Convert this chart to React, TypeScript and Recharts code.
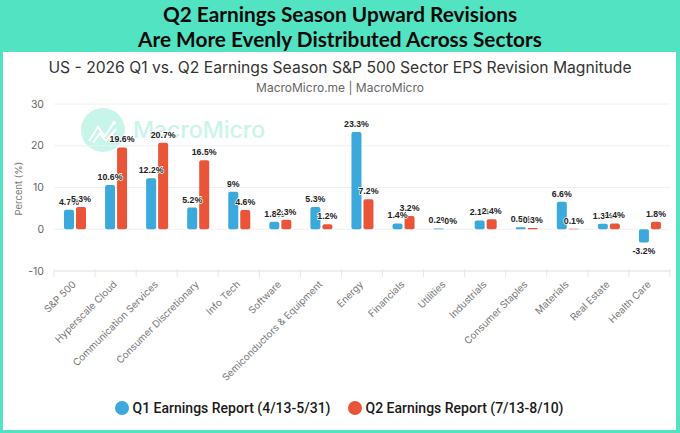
import { BarChart, Bar, XAxis, YAxis, CartesianGrid, Legend, LabelList } from "recharts";

const sectors = [
  "S&P 500",
  "Hyperscale Cloud",
  "Communication Services",
  "Consumer Discretionary",
  "Info Tech",
  "Software",
  "Semiconductors & Equipment",
  "Energy",
  "Financials",
  "Utilities",
  "Industrials",
  "Consumer Staples",
  "Materials",
  "Real Estate",
  "Health Care",
];
const q1Values = [4.7, 10.6, 12.2, 5.2, 9, 1.8, 5.3, 23.3, 1.4, 0.2, 2.1, 0.5, 6.6, 1.3, -3.2];
const q2Values = [5.3, 19.6, 20.7, 16.5, 4.6, 2.3, 1.2, 7.2, 3.2, 0, 2.4, 0.3, 0.1, 1.4, 1.8];
const yTicks = [-10, 0, 10, 20, 30];

const Q1_NAME = "Q1 Earnings Report (4/13-5/31)";
const Q2_NAME = "Q2 Earnings Report (7/13-8/10)";
const BLUE = "#3ba9dc";
const RED = "#ea553a";
const TEAL = "#52e3c2";
const WATERMARK = "#c8f5ea";

const data = sectors.map((name, i) => ({ name, q1: q1Values[i], q2: q2Values[i] }));

const AXIS_FONT = "Inter, Roboto, sans-serif";

const SectorTick = ({ x, y, payload, index }: any) => {
  const half = 41.07 / 2;
  return (
    <g>
      <line x1={x - half} x2={x - half} y1={y - 8} y2={y} stroke="#e6e6e6" />
      {index === sectors.length - 1 && (
        <line x1={x + half} x2={x + half} y1={y - 8} y2={y} stroke="#e6e6e6" />
      )}
      <text
        x={x + 2}
        y={y + 8}
        transform={`rotate(-45 ${x + 2} ${y + 8})`}
        textAnchor="end"
        fontSize={9.8}
        fontFamily={AXIS_FONT}
        fill="#777777"
      >
        {payload.value}
      </text>
    </g>
  );
};

const BarLabel = ({ x, y, width, height, value }: any) => {
  const negative = value < 0;
  const top = Math.min(y, y + height);
  const bottom = Math.max(y, y + height);
  return (
    <text
      x={x + width / 2}
      y={negative ? bottom + 11 : top - 5}
      textAnchor="middle"
      fontSize={8.8}
      fontWeight="bold"
      fontFamily="'Liberation Sans', sans-serif"
      fill="#222222"
      stroke="#ffffff"
      strokeWidth={1.5}
      paintOrder="stroke"
    >
      {value}%
    </text>
  );
};

const LegendRow = ({ payload }: any) => (
  <div style={{ display: "flex", justifyContent: "center", height: 24, alignItems: "center", paddingLeft: 8 }}>
    {(payload || []).map((entry: any) => (
      <div key={entry.value} style={{ display: "flex", alignItems: "center", margin: "0 8.5px" }}>
        <span
          style={{ width: 14, height: 14, borderRadius: 7, background: entry.color, marginRight: 4 }}
        />
        <span style={{ fontFamily: "Roboto, sans-serif", fontSize: 14, fontWeight: 500, color: "#1a1a1a" }}>
          {entry.value}
        </span>
      </div>
    ))}
  </div>
);

export default function App() {
  return (
    <div style={{ position: "absolute", left: 0, top: 0, width: 680, height: 433, background: TEAL, overflow: "hidden" }}>
      <div style={{ position: "absolute", left: 3, top: 52, width: 673, height: 378, background: "#ffffff" }} />

      <div
        style={{
          position: "absolute",
          left: 0,
          top: 1,
          width: 680,
          textAlign: "center",
          fontFamily: "Lato, sans-serif",
          fontWeight: 700,
          fontSize: 20.8,
          lineHeight: "25px",
          color: "#0a0a0a",
        }}
      >
        Q2 Earnings Season Upward Revisions
        <br />
        Are More Evenly Distributed Across Sectors
      </div>

      <div
        style={{
          position: "absolute",
          left: 0,
          top: 58,
          width: 680,
          textAlign: "center",
          fontFamily: AXIS_FONT,
          fontSize: 15.65,
          color: "#333333",
        }}
      >
        US - 2026 Q1 vs. Q2 Earnings Season S&P 500 Sector EPS Revision Magnitude
      </div>
      <div
        style={{
          position: "absolute",
          left: 0,
          top: 80,
          width: 680,
          textAlign: "center",
          fontFamily: AXIS_FONT,
          fontSize: 12,
          color: "#666666",
        }}
      >
        MacroMicro.me | MacroMicro
      </div>

      {/* watermark sits under the chart svg */}
      <svg width={680} height={433} style={{ position: "absolute", left: 0, top: 0 }}>
        <circle cx={103} cy={130} r={22} fill={WATERMARK} />
        <polyline points="89,141 98,127 105,136 113,124" fill="none" stroke="#ffffff" strokeWidth={2} />
        <polyline points="93,143 100,133 106,141 116,129" fill="none" stroke="#ffffff" strokeWidth={2} />
        <circle cx={114} cy={123} r={2} fill="#ffffff" />
        <text x={133} y={138} fontFamily="Inter, Roboto, sans-serif" fontSize={23} fontWeight={500} fill={WATERMARK}>
          MacroMicro
        </text>
      </svg>

      <div style={{ position: "absolute", left: 0, top: 0 }}>
        <BarChart
          width={680}
          height={433}
          data={data}
          margin={{ top: 104, right: 10, bottom: 13, left: 0 }}
          barSize={10}
          barGap={2}
        >
          <CartesianGrid horizontal vertical={false} stroke="#f0f0f0" />
          <XAxis
            dataKey="name"
            interval={0}
            height={125}
            tick={<SectorTick />}
            tickLine={false}
            axisLine={{ stroke: "#e6e6e6" }}
            tickMargin={0}
          />
          <YAxis
            width={54}
            domain={[-10, 30]}
            ticks={yTicks}
            axisLine={false}
            tickLine={false}
            tick={{ fontSize: 10.5, fontFamily: AXIS_FONT, fill: "#666666", dx: -2 }}
            label={{
              value: "Percent (%)",
              angle: -90,
              position: "insideLeft",
              offset: 19,
              dy: 28,
              style: { fontSize: 9.5, fontFamily: AXIS_FONT, fill: "#777777" },
            }}
          />
          <Legend verticalAlign="bottom" content={<LegendRow />} />
          <Bar dataKey="q1" name={Q1_NAME} fill={BLUE} radius={2} minPointSize={0.01} isAnimationActive={false}>
            <LabelList dataKey="q1" content={<BarLabel />} />
          </Bar>
          <Bar dataKey="q2" name={Q2_NAME} fill={RED} radius={2} minPointSize={0.01} isAnimationActive={false}>
            <LabelList dataKey="q2" content={<BarLabel />} />
          </Bar>
        </BarChart>
      </div>
    </div>
  );
}
